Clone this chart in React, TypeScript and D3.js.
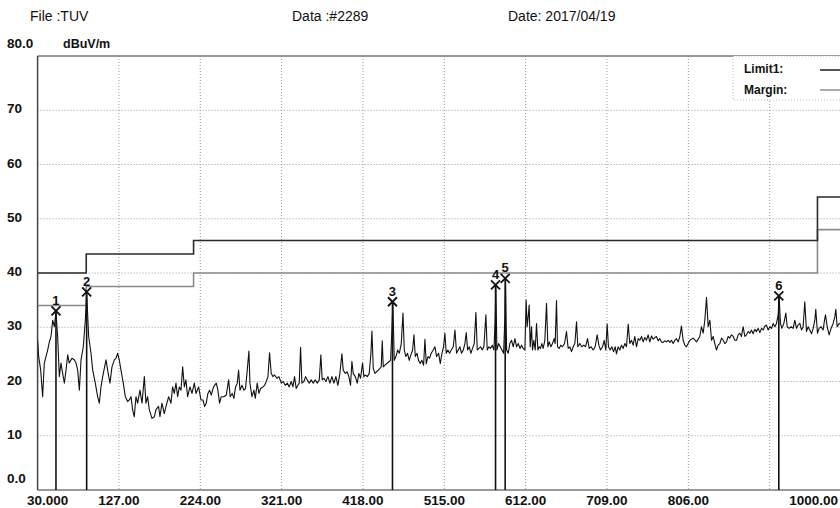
import React from 'react';
import * as d3 from 'd3';

// header
const fileName = 'File :TUV';
const dataName = 'Data :#2289';
const dateText = 'Date: 2017/04/19';
const unitText = 'dBuV/m';

// axes
const xTicks = [30, 127, 224, 321, 418, 515, 612, 709, 806, 903, 1000];
const xTickLabels = ['30.000', '127.00', '224.00', '321.00', '418.00', '515.00', '612.00', '709.00', '806.00', '', '1000.00'];
const yTicks = [0, 10, 20, 30, 40, 50, 60, 70, 80];
const yTickLabels = ['0.0', '10', '20', '30', '40', '50', '60', '70', '80.0'];

// limit lines (step after each frequency)
const limitFreq = [30, 88, 216, 960, 1000];
const limit1Level = [40, 43.5, 46, 54, 54];
const marginLevel = [34, 37.5, 40, 48, 48];

// markers
const markerNo = [1, 2, 3, 4, 5, 6];
const markerFreq = [51.9, 88.5, 453.2, 576.1, 587.6, 913.9];
const markerLevel = [33.0, 36.5, 34.7, 37.8, 39.0, 35.8];

// measured trace, [MHz, dBuV/m], read band by band
const trace30to225: [number, number][] = [
  [30, 27.5], [31.3, 24.6], [33.7, 22.1], [36.0, 17.2], [38.0, 23.4], [40.0, 24.6], [42.0, 25.8], [44.0, 27.3],
  [46.0, 28.3], [48.0, 31.3], [50.0, 30.1], [51.9, 32.8], [53.9, 28.3], [55.9, 20.9], [57.9, 23.4], [59.9, 21.5],
  [61.9, 19.7], [63.9, 22.1], [65.9, 24.9], [67.8, 23.4], [71.0, 24.3], [73.8, 24.0], [75.8, 23.4], [77.8, 22.1],
  [79.8, 18.4], [81.8, 24.0], [84.5, 26.4], [86.9, 31.3], [88.5, 36.3], [90.9, 28.3], [93.7, 25.2], [95.7, 22.1],
  [98.8, 19.7], [101.6, 17.2], [103.6, 16.0], [105.6, 19.0], [107.6, 20.9], [111.6, 24.0], [113.5, 22.1], [116.3, 19.7],
  [118.7, 22.7], [121.5, 24.0], [123.5, 24.3], [125.5, 25.2], [127.4, 24.0], [129.4, 22.1], [132.2, 19.7], [134.6, 17.2],
  [137.4, 16.3], [139.4, 16.6], [141.4, 17.2], [143.3, 14.8], [145.3, 13.5], [147.3, 17.2], [149.3, 16.0], [152.1, 18.4],
  [154.5, 16.0], [157.3, 20.9], [159.2, 16.0], [161.2, 17.2], [163.2, 14.8], [166.4, 13.2], [169.2, 13.5], [171.2, 14.8],
  [174.3, 15.4], [175.9, 13.5], [178.3, 16.0], [181.1, 14.1], [183.1, 15.4], [186.3, 17.2], [189.0, 16.0], [191.0, 19.0],
  [193.0, 17.8], [195.0, 19.7], [197.0, 17.2], [199.0, 19.0], [201.0, 18.4], [203.0, 22.7], [205.0, 19.0], [206.9, 20.3],
  [208.9, 17.2], [211.7, 19.0], [214.1, 17.8], [216.9, 19.7], [218.9, 17.8], [222.0, 19.0], [224.8, 16.6],
];

const trace225to420: [number, number][] = [
  [227.2, 16.6], [229.1, 15.4], [231.1, 16.0], [233.1, 17.8], [235.1, 18.4], [237.1, 17.5], [239.1, 18.7], [241.1, 19.3],
  [243.1, 19.7], [245.0, 18.4], [247.0, 16.0], [249.0, 17.2], [252.2, 17.2], [255.0, 17.5], [257.8, 20.3], [259.7, 17.2],
  [262.1, 17.8], [264.1, 16.9], [266.1, 19.0], [268.1, 19.7], [269.7, 22.1], [271.3, 18.4], [273.7, 19.3], [276.0, 18.4],
  [278.0, 18.7], [280.0, 22.1], [282.0, 25.6], [283.2, 19.7], [285.6, 17.2], [288.0, 18.4], [289.6, 16.9], [291.9, 19.7],
  [293.9, 17.8], [295.9, 18.7], [298.7, 19.0], [300.7, 19.3], [302.7, 20.0], [304.7, 20.9], [306.6, 25.3], [308.6, 21.5],
  [310.6, 20.9], [312.6, 21.2], [315.4, 20.6], [317.8, 20.9], [320.6, 19.7], [322.9, 20.0], [325.3, 19.3], [327.7, 19.7],
  [330.1, 19.0], [332.5, 20.0], [334.5, 19.0], [336.4, 20.9], [338.4, 18.7], [340.4, 19.3], [342.0, 19.7], [343.6, 26.3],
  [345.2, 19.7], [347.6, 20.0], [349.6, 20.9], [351.5, 20.3], [353.9, 19.7], [356.3, 20.3], [358.7, 19.7], [361.1, 20.3],
  [363.5, 19.7], [365.9, 20.3], [367.8, 24.9], [369.4, 20.3], [371.4, 20.6], [373.8, 20.0], [376.2, 20.9], [378.6, 19.7],
  [381.0, 20.9], [383.3, 19.7], [385.7, 20.9], [388.1, 19.3], [390.5, 21.5], [392.9, 25.1], [394.5, 22.1], [396.9, 21.5],
  [399.2, 21.8], [401.2, 20.9], [403.2, 19.3], [404.8, 23.7], [406.4, 21.5], [408.8, 20.9], [411.2, 19.7], [413.1, 21.5],
  [415.1, 20.6], [417.5, 23.4], [419.1, 20.9],
];

const trace420to612: [number, number][] = [
  [420.8, 21.2], [423.1, 20.9], [425.5, 21.5], [427.5, 25.2], [428.7, 29.3], [430.3, 22.4], [432.3, 21.5], [434.3, 21.8],
  [436.3, 22.1], [438.2, 22.4], [439.8, 22.7], [441.0, 27.5], [442.2, 22.7], [444.2, 23.0], [446.2, 23.3], [448.6, 23.6],
  [451.0, 23.9], [452.5, 29.5], [453.7, 34.5], [455.3, 23.9], [457.3, 24.6], [459.3, 25.8], [461.3, 25.2], [463.7, 27.0],
  [465.7, 32.6], [467.3, 25.8], [469.2, 24.6], [471.2, 25.2], [473.2, 23.9], [475.2, 24.9], [477.2, 25.8], [478.8, 28.6],
  [480.4, 24.6], [482.4, 25.2], [484.3, 23.9], [486.3, 23.3], [488.3, 23.9], [490.3, 23.0], [491.9, 27.8], [493.5, 23.3],
  [495.5, 24.6], [497.5, 24.3], [499.4, 25.2], [501.8, 25.8], [503.8, 26.4], [505.8, 24.6], [508.2, 25.2], [510.2, 23.3],
  [512.2, 25.2], [514.1, 26.4], [515.7, 28.9], [517.3, 25.2], [519.3, 25.8], [521.3, 25.2], [523.3, 25.8], [525.7, 26.4],
  [527.7, 29.5], [529.6, 25.2], [531.6, 25.8], [533.6, 26.4], [535.6, 25.2], [537.6, 25.8], [539.6, 27.0], [541.2, 29.0],
  [542.8, 25.8], [544.8, 26.4], [546.7, 25.2], [548.7, 26.1], [550.7, 27.0], [552.7, 32.7], [554.3, 25.8], [556.3, 26.1],
  [558.3, 26.4], [560.2, 25.8], [562.2, 26.4], [564.6, 32.3], [566.2, 25.8], [568.2, 26.4], [570.2, 26.1], [572.2, 26.7],
  [574.2, 25.8], [575.7, 31.6], [576.5, 37.6], [577.7, 25.8], [579.7, 27.0], [581.7, 26.4], [583.7, 25.8], [585.7, 25.2],
  [587.3, 31.9], [588.1, 38.8], [589.3, 25.8], [591.2, 25.2], [593.2, 27.0], [595.2, 27.6], [597.2, 26.4], [599.2, 27.9],
  [601.2, 26.4], [603.2, 27.0], [605.2, 26.1], [607.1, 26.7], [609.1, 26.1], [611.1, 25.8],
];

const trace612to802: [number, number][] = [
  [612.6, 35.0], [613.8, 30.1], [615.0, 31.9], [616.2, 34.1], [617.4, 26.4], [619.0, 30.1], [620.2, 25.8], [621.8, 27.6],
  [623.4, 25.8], [625.0, 30.7], [626.6, 25.8], [628.1, 26.4], [629.7, 26.1], [631.3, 27.0], [632.9, 26.1], [634.9, 27.6],
  [636.9, 34.4], [638.5, 26.4], [640.1, 27.3], [642.1, 26.4], [644.0, 27.0], [646.0, 27.9], [647.2, 27.0], [648.8, 34.9],
  [650.0, 26.4], [652.0, 26.1], [654.0, 26.7], [656.0, 26.4], [658.4, 27.0], [660.7, 29.2], [662.7, 26.1], [664.7, 26.4],
  [666.7, 25.5], [668.7, 26.4], [670.7, 27.0], [672.7, 31.0], [674.2, 26.4], [676.6, 27.0], [679.0, 26.4], [681.4, 26.7],
  [683.4, 26.4], [685.8, 27.9], [687.8, 26.1], [690.1, 26.4], [692.5, 25.8], [694.9, 26.4], [697.3, 28.6], [699.3, 26.7],
  [701.3, 25.8], [703.7, 26.4], [705.6, 27.6], [707.6, 25.8], [709.2, 30.6], [710.8, 26.4], [712.8, 25.8], [714.8, 26.4],
  [716.8, 25.5], [718.8, 26.4], [720.3, 25.1], [722.3, 26.4], [724.3, 25.8], [726.3, 26.7], [728.3, 26.1], [730.3, 27.0],
  [732.3, 26.4], [734.3, 30.6], [736.2, 27.0], [738.2, 27.6], [740.2, 26.7], [742.2, 28.3], [744.2, 26.4], [746.2, 27.9],
  [748.2, 27.6], [750.2, 28.3], [752.1, 27.3], [754.1, 28.1], [756.1, 27.6], [758.1, 28.6], [760.1, 27.3], [762.1, 28.4],
  [764.1, 27.8], [766.1, 28.1], [768.0, 28.3], [770.0, 27.5], [772.0, 27.9], [774.0, 27.3], [776.0, 27.2], [778.0, 27.5],
  [780.0, 27.3], [782.0, 27.6], [783.9, 27.2], [785.9, 27.6], [787.9, 27.0], [789.9, 27.6], [791.9, 27.9], [793.9, 27.3],
  [795.9, 28.3], [797.8, 30.2], [799.8, 27.6], [801.8, 26.7],
];

const trace802to990: [number, number][] = [
  [803.8, 26.4], [807.8, 27.6], [811.8, 28.0], [815.8, 27.3], [819.7, 28.3], [821.7, 30.1], [823.7, 28.9], [825.7, 31.3],
  [827.7, 35.5], [829.7, 30.1], [831.7, 31.3], [833.7, 27.6], [835.6, 28.3], [837.6, 27.0], [839.6, 25.8], [841.6, 26.7],
  [843.6, 27.0], [845.6, 28.0], [847.6, 27.6], [849.5, 27.0], [851.5, 27.3], [853.5, 28.3], [855.5, 28.0], [857.5, 28.6],
  [859.5, 28.3], [861.5, 27.6], [863.5, 27.6], [865.4, 28.6], [867.4, 28.9], [869.4, 28.3], [871.4, 30.1], [873.4, 28.3],
  [875.4, 28.6], [877.4, 29.2], [879.4, 28.9], [881.3, 29.5], [883.3, 28.8], [885.3, 29.6], [887.3, 29.2], [889.3, 29.8],
  [891.3, 29.0], [893.3, 29.8], [895.3, 29.5], [897.2, 30.2], [899.2, 30.4], [901.2, 29.5], [903.2, 30.1], [905.2, 29.8],
  [907.2, 30.7], [909.2, 30.1], [911.1, 30.7], [913.1, 32.3], [914.3, 35.6], [915.9, 30.7], [917.5, 29.8], [919.9, 30.7],
  [922.3, 32.6], [923.9, 30.1], [926.2, 29.8], [928.6, 30.1], [931.0, 29.8], [933.0, 31.3], [935.0, 29.8], [937.0, 30.4],
  [939.0, 30.7], [941.0, 29.5], [942.9, 30.1], [944.9, 34.7], [946.9, 29.2], [948.9, 30.1], [950.9, 29.5], [952.9, 28.8],
  [954.9, 29.8], [956.9, 31.3], [958.0, 33.3], [960.0, 28.9], [962.0, 29.8], [964.4, 30.1], [966.8, 29.5], [968.4, 31.3],
  [969.6, 32.3], [971.6, 30.1], [973.9, 28.6], [976.3, 29.8], [978.7, 30.7], [980.7, 31.9], [981.9, 33.3], [983.5, 30.1],
  [985.9, 30.7], [989.0, 30.4],
];

const width = 840;
const height = 508;
const plot = { left: 37.6, right: 851, top: 56, bottom: 490 };
const font = 'Liberation Sans, Arial, Helvetica, sans-serif';

export default function App() {
  const x = d3.scaleLinear().domain([30, 1000]).range([plot.left, plot.right]);
  const y = d3.scaleLinear().domain([0, 80]).range([plot.bottom, plot.top]);

  const trace = [...trace30to225, ...trace225to420, ...trace420to612, ...trace612to802, ...trace802to990];
  const traceLine = d3.line<[number, number]>().x(d => x(d[0])).y(d => y(d[1]));

  const stepLine = d3.line<[number, number]>()
    .x(d => x(d[0]))
    .y(d => y(d[1]))
    .curve(d3.curveStepAfter);
  const limitPts = limitFreq.map((f, i) => [f, limit1Level[i]] as [number, number]);
  const marginPts = limitFreq.map((f, i) => [f, marginLevel[i]] as [number, number]);

  return (
    <svg width={width} height={height} style={{ position: 'absolute', left: 0, top: 0, background: '#fff' }}
      fontFamily={font}>
      <defs>
        <clipPath id="plotClip">
          <rect x={plot.left} y={plot.top - 2} width={plot.right - plot.left} height={plot.bottom - plot.top + 2} />
        </clipPath>
      </defs>

      {/* header */}
      <text x={30} y={21} fontSize={14} fill="#111">{fileName}</text>
      <text x={292} y={21} fontSize={14} fill="#111">{dataName}</text>
      <text x={508} y={21} fontSize={14} fill="#111">{dateText}</text>
      <text x={63} y={48} fontSize={12.5} fontWeight="bold" fill="#111">{unitText}</text>

      {/* grid */}
      {yTicks.filter(v => v > 0 && v < 80).map(v => (
        <line key={'gy' + v} x1={plot.left} x2={plot.right} y1={y(v)} y2={y(v)}
          stroke="#999" strokeWidth={1} strokeDasharray="1,2" />
      ))}
      {xTicks.filter(v => v > 30 && v < 1000).map(v => (
        <line key={'gx' + v} x1={x(v)} x2={x(v)} y1={plot.top} y2={plot.bottom}
          stroke="#999" strokeWidth={1} strokeDasharray="1,2" />
      ))}

      {/* frame */}
      <line x1={plot.left} x2={plot.right} y1={plot.top} y2={plot.top} stroke="#777" strokeWidth={1.5} />
      <line x1={plot.left} x2={plot.right} y1={plot.bottom} y2={plot.bottom} stroke="#777" strokeWidth={1.5} />
      <line x1={plot.left} x2={plot.left} y1={plot.top} y2={plot.bottom} stroke="#444" strokeWidth={1.5} />

      {/* y labels */}
      {yTicks.map((v, i) => {
        let ty = y(v) + 3;
        if (v === 0) ty = 483;
        if (v === 80) ty = 48;
        return (
          <text key={'yl' + v} x={7} y={ty} fontSize={13.5} fontWeight="bold" fill="#111">{yTickLabels[i]}</text>
        );
      })}

      {/* x labels */}
      {xTicks.map((v, i) => {
        const label = xTickLabels[i];
        if (!label) return null;
        let tx = x(v);
        let anchor: 'start' | 'middle' | 'end' = 'middle';
        if (i === 0) { tx = 27; anchor = 'start'; }
        if (i === xTicks.length - 1) { tx = 838; anchor = 'end'; }
        return (
          <text key={'xl' + v} x={tx} y={505} fontSize={13.5} fontWeight="bold" textAnchor={anchor} fill="#111">{label}</text>
        );
      })}

      <g clipPath="url(#plotClip)">
        {/* limits */}
        <path d={stepLine(marginPts) || ''} fill="none" stroke="#8a8a8a" strokeWidth={1.6} />
        <path d={stepLine(limitPts) || ''} fill="none" stroke="#2a2a2a" strokeWidth={1.6} />

        {/* trace */}
        <path d={traceLine(trace) || ''} fill="none" stroke="#111" strokeWidth={1.1} strokeLinejoin="round" />

        {/* markers */}
        {markerNo.map((n, i) => {
          const mx = x(markerFreq[i]);
          const my = y(markerLevel[i]);
          return (
            <g key={'m' + n}>
              <line x1={mx} x2={mx} y1={my} y2={plot.bottom} stroke="#111" strokeWidth={1.6} />
              <line x1={mx - 4.5} x2={mx + 4.5} y1={my - 4.5} y2={my + 4.5} stroke="#111" strokeWidth={1.8} />
              <line x1={mx - 4.5} x2={mx + 4.5} y1={my + 4.5} y2={my - 4.5} stroke="#111" strokeWidth={1.8} />
              <text x={mx} y={my - 6} fontSize={13} fontWeight="bold" textAnchor="middle" fill="#111">{n}</text>
            </g>
          );
        })}
      </g>

      {/* legend */}
      <rect x={733} y={56} width={120} height={44} fill="#fff" stroke="#aaa" strokeWidth={0.8} strokeDasharray="1,2" />
      <text x={744} y={73} fontSize={12} fontWeight="bold" fill="#111">Limit1:</text>
      <text x={744} y={94} fontSize={12} fontWeight="bold" fill="#111">Margin:</text>
      <line x1={820} x2={840} y1={70} y2={70} stroke="#2a2a2a" strokeWidth={1.6} />
      <line x1={820} x2={840} y1={90} y2={90} stroke="#8a8a8a" strokeWidth={1.4} />
    </svg>
  );
}
